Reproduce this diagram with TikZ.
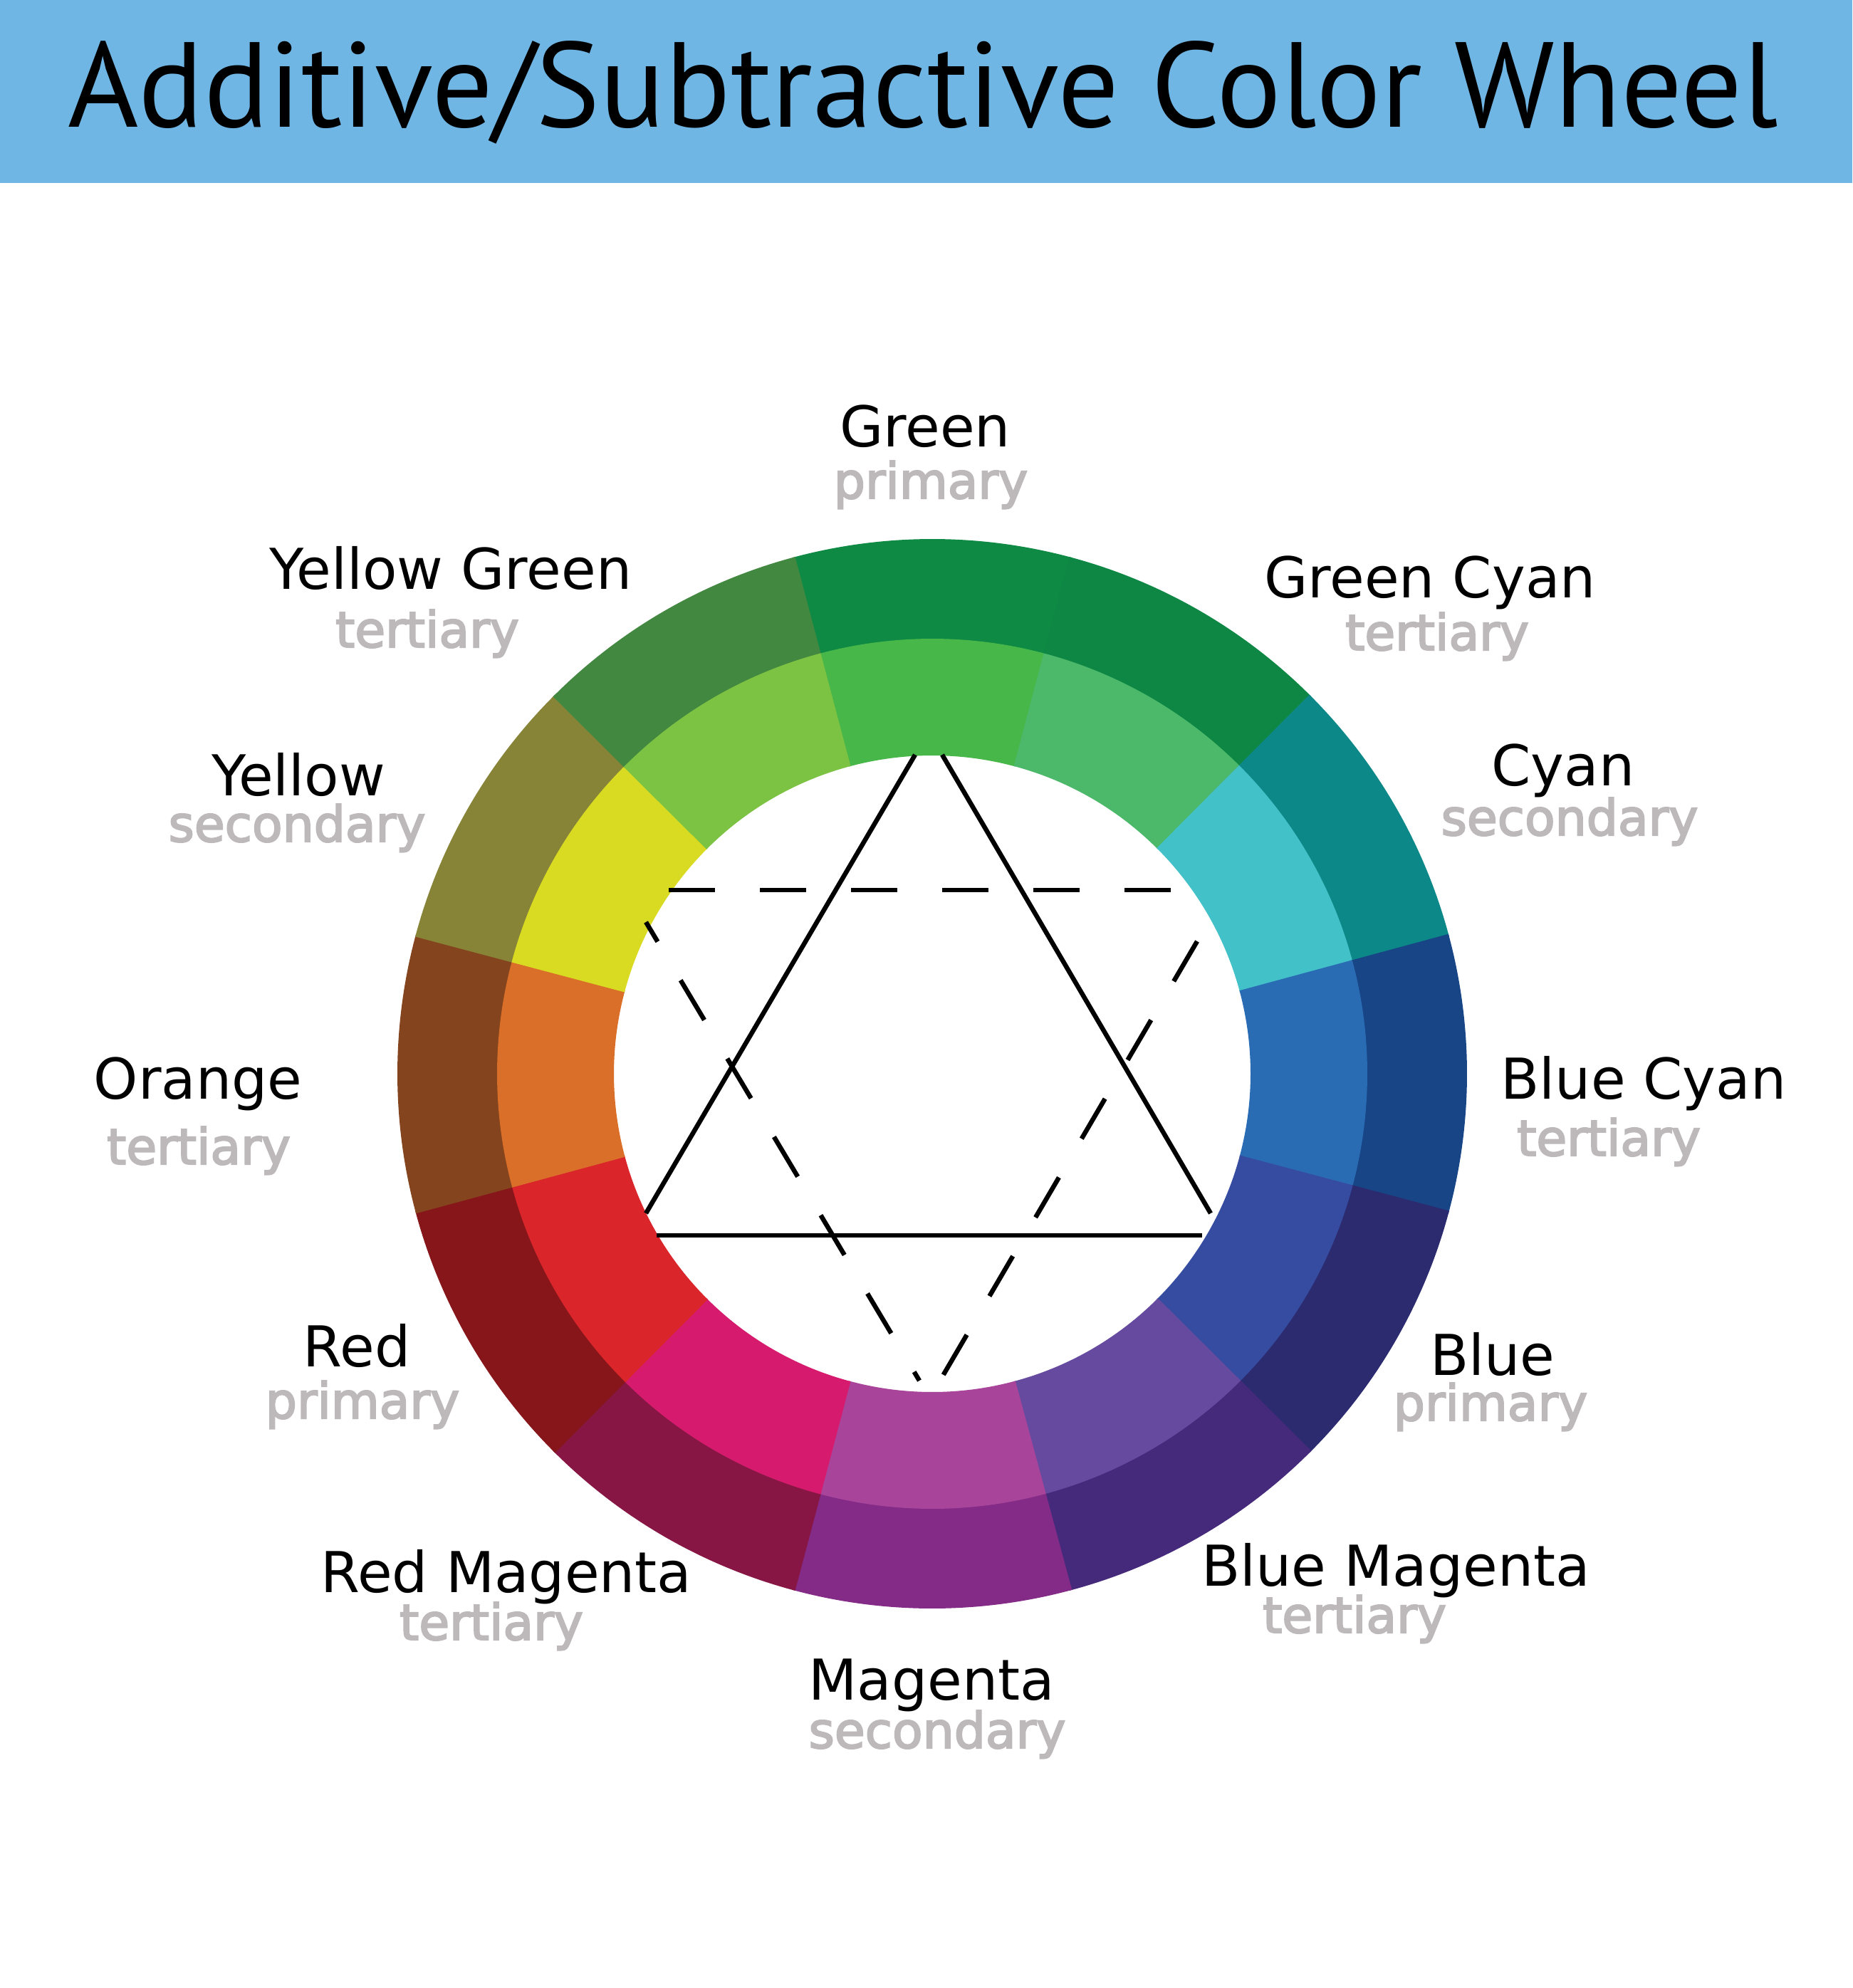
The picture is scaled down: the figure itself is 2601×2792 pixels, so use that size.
\documentclass[tikz,border=0pt]{standalone}
\usepackage{fontspec}
\usepackage{xcolor}
\usepackage{tikz}
\usetikzlibrary{positioning}
\newfontfamily\titlefont{PT Sans}
\newfontfamily\huefont{DejaVu Sans}
\newfontfamily\kindfont{DejaVu Sans}[FakeBold=3]
\definecolor{titlebar}{HTML}{6FB6E5}
\definecolor{kindgray}{HTML}{BDB9BA}
% outer (dark) ring
\definecolor{gOut}{HTML}{0F8A44}  \definecolor{gcOut}{HTML}{0E8745}
\definecolor{cOut}{HTML}{0D8888}  \definecolor{bcOut}{HTML}{184585}
\definecolor{bOut}{HTML}{2C2B70}  \definecolor{bmOut}{HTML}{452A7C}
\definecolor{mOut}{HTML}{832B86}  \definecolor{rmOut}{HTML}{871644}
\definecolor{rOut}{HTML}{86161A}  \definecolor{oOut}{HTML}{84441E}
\definecolor{yOut}{HTML}{878438}  \definecolor{ygOut}{HTML}{438840}
% inner (light) ring
\definecolor{gIn}{HTML}{47B749}   \definecolor{gcIn}{HTML}{4BB86A}
\definecolor{cIn}{HTML}{43C1C8}   \definecolor{bcIn}{HTML}{2A6CB4}
\definecolor{bIn}{HTML}{354CA0}   \definecolor{bmIn}{HTML}{664A9F}
\definecolor{mIn}{HTML}{A8459A}   \definecolor{rmIn}{HTML}{D61B6F}
\definecolor{rIn}{HTML}{DA252B}   \definecolor{oIn}{HTML}{DA6F29}
\definecolor{yIn}{HTML}{D9DA22}   \definecolor{ygIn}{HTML}{7CC243}
\tikzset{
hue name/.style={font={\huefont\fontsize{22.5pt}{26pt}\selectfont}, anchor=base, inner sep=0pt},
hue kind/.style={font={\kindfont\fontsize{19.8pt}{24pt}\selectfont}, text=kindgray, anchor=base, inner sep=0pt},
tri line/.style={line width=0.065cm, black},
tri dash/.style={tri line, dash pattern=on 0.65cm off 0.63cm}
}
\newcommand{\sector}[4]{(#1-15.15:#3) arc[start angle=#1-15.15, end angle=#1+15.15, radius=#3] -- (#1+15.15:#4) arc[start angle=#1+15.15, end angle=#1-15.15, radius=#4] -- cycle}

\begin{document}
\begin{tikzpicture}[x=0.01cm, y=-0.01cm]
\useasboundingbox (0,0) rectangle (2601,2792);
\fill[white] (0,0) rectangle (2601,2792);

% title bar
\fill[titlebar] (0,0) rectangle (2601,257);
\node[font={\titlefont\fontsize{48.3pt}{56pt}\selectfont}, anchor=base, inner sep=0pt] (title) at (1296,179) {Additive/Subtractive Color Wheel};

% wheel
\begin{scope}[shift={(1309,1508)}, y=0.01cm]
\foreach \a/\outc/\inc in {90/gOut/gIn, 60/gcOut/gcIn, 30/cOut/cIn, 0/bcOut/bcIn, -30/bOut/bIn, -60/bmOut/bmIn, -90/mOut/mIn, -120/rmOut/rmIn, -150/rOut/rIn, 180/oOut/oIn, 150/yOut/yIn, 120/ygOut/ygIn}{
  \fill[\outc] \sector{\a}{}{751}{609};
  \fill[\inc] \sector{\a}{}{611}{447};
}
\end{scope}

% solid triangle (open at the corners)
\coordinate (sTopL) at (1285,1060);
\coordinate (sTopR) at (1323,1060);
\coordinate (sLeft) at (907,1704);
\coordinate (sRight) at (1700,1704);
\coordinate (sBaseL) at (922,1735);
\coordinate (sBaseR) at (1688,1735);
\draw[tri line] (sTopL) -- (sLeft);
\draw[tri line] (sTopR) -- (sRight);
\draw[tri line] (sBaseL) -- (sBaseR);

% dashed triangle
\coordinate (dTopL) at (939,1250);
\coordinate (dTopR) at (1648,1250);
\coordinate (dLeft) at (907,1295);
\coordinate (dRight) at (1681,1322);
\coordinate (dBotL) at (1291,1939);
\coordinate (dBotR) at (1324,1932);
\draw[tri dash] (dTopL) -- (dTopR);
\draw[tri dash, dash phase=0.33cm] (dLeft) -- (dBotL);
\draw[tri dash] (dRight) -- (dBotR);

% labels
\node[hue name] (green) at (1299,628) {Green};
\node[hue kind] (green kind) at (1307,700) {primary};
\node[hue name] (yellowgreen) at (633,828) {Yellow Green};
\node[hue kind] (yellowgreen kind) at (600,909) {tertiary};
\node[hue name] (greencyan) at (2008,840) {Green Cyan};
\node[hue kind] (greencyan kind) at (2018,913) {tertiary};
\node[hue name] (yellow) at (419,1117) {Yellow};
\node[hue kind] (yellow kind) at (417,1182) {secondary};
\node[hue name] (cyan) at (2195,1103) {Cyan};
\node[hue kind] (cyan kind) at (2204,1173) {secondary};
\node[hue name] (orange) at (278,1543) {Orange};
\node[hue kind] (orange kind) at (279,1635) {tertiary};
\node[hue name] (bluecyan) at (2308,1543) {Blue Cyan};
\node[hue kind] (bluecyan kind) at (2259,1623) {tertiary};
\node[hue name] (red) at (501,1919) {Red};
\node[hue kind] (red kind) at (509,1992) {primary};
\node[hue name] (blue) at (2096,1931) {Blue};
\node[hue kind] (blue kind) at (2093,1995) {primary};
\node[hue name] (redmagenta) at (711,2236) {Red Magenta};
\node[hue kind] (redmagenta kind) at (690,2303) {tertiary};
\node[hue name] (bluemagenta) at (1960,2227) {Blue Magenta};
\node[hue kind] (bluemagenta kind) at (1902,2293) {tertiary};
\node[hue name] (magenta) at (1308,2387) {Magenta};
\node[hue kind] (magenta kind) at (1316,2455) {secondary};
\end{tikzpicture}
\end{document}
